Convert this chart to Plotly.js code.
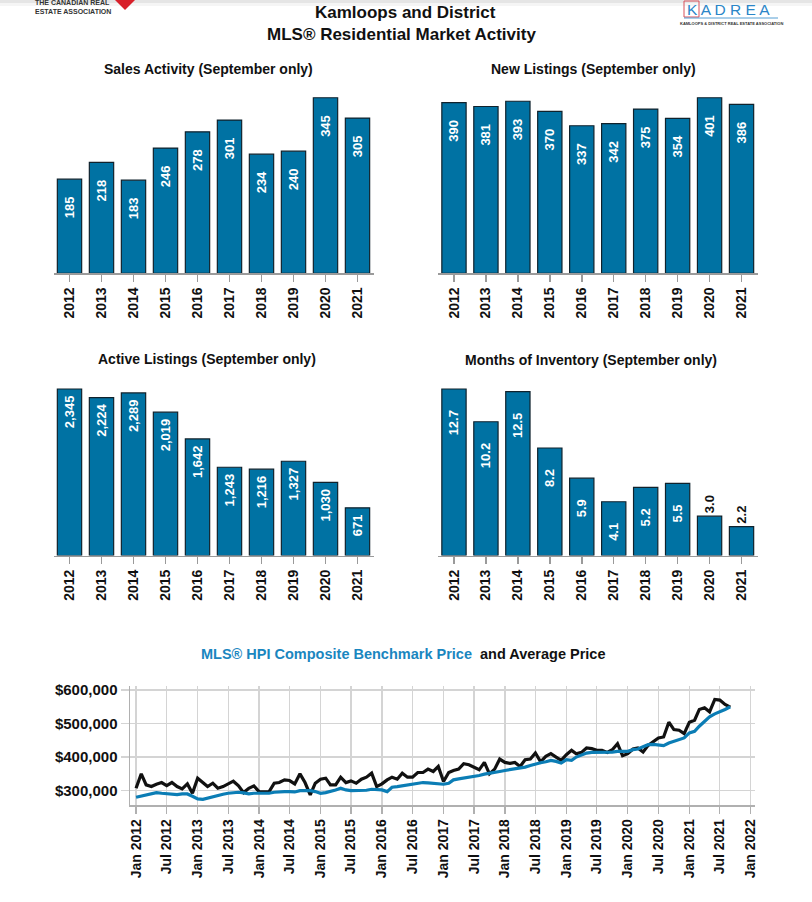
<!DOCTYPE html>
<html>
<head>
<meta charset="utf-8">
<script src="https://cdn.plot.ly/plotly-3.0.1.min.js"></script>
<style>
  html, body { margin: 0; padding: 0; background: #ffffff; }
  #chart { width: 812px; height: 902px; }
</style>
</head>
<body>
<div id="chart"></div>
<script>
// ---------------- DATA ----------------
const years = ['2012', '2013', '2014', '2015', '2016', '2017', '2018', '2019', '2020', '2021'];
const salesActivity = [185, 218, 183, 246, 278, 301, 234, 240, 345, 305];
const newListings = [390, 381, 393, 370, 337, 342, 375, 354, 401, 386];
const activeListings = [2345, 2224, 2289, 2019, 1642, 1243, 1216, 1327, 1030, 671];
const monthsOfInventory = [12.7, 10.2, 12.5, 8.2, 5.9, 4.1, 5.2, 5.5, 3.0, 2.2];

// Monthly series, Jan 2012 .. Sep 2021 (values in thousands of dollars)
const firstMonth = { year: 2012, month: 1 };
const hpiBenchmarkK = [
  280, 283, 287, 290, 294, 292, 290, 289, 288, 290, 290, 283,
  275, 274, 278, 282, 286, 289, 292, 294, 295, 293, 290, 292,
  292, 291, 292, 295, 297, 297, 297, 296, 300, 301, 300, 297,
  292, 294, 297, 302, 307, 302, 300, 300, 302, 301, 304, 303,
  302, 297, 310, 312, 314, 316, 319, 321, 324, 323, 322, 321,
  319, 322, 332, 335, 337, 339, 342, 345, 349, 351, 354, 357,
  360, 362, 365, 367, 370, 375, 380, 383, 386, 390, 387, 382,
  392, 390, 400, 407, 412, 414, 414, 414, 414, 415, 417, 416,
  417, 422, 424, 431, 437, 438, 437, 434, 442, 447, 450, 457,
  472, 477, 492, 507, 520, 529, 535, 542, 550
];
const averagePriceK = [
  307, 350, 317, 312, 319, 324, 315, 324, 312, 305, 320, 292,
  337, 324, 312, 322, 307, 312, 319, 328, 314, 294, 307, 314,
  297, 296, 296, 322, 324, 332, 330, 320, 350, 324, 287, 322,
  334, 337, 317, 317, 340, 324, 329, 322, 334, 340, 352, 312,
  320, 332, 340, 334, 352, 340, 340, 354, 354, 364, 357, 372,
  327, 354, 360, 364, 380, 377, 370, 362, 384, 350, 364, 394,
  384, 381, 384, 372, 392, 394, 412, 386, 402, 410, 400, 390,
  407, 420, 410, 414, 427, 425, 420, 420, 414, 422, 440, 404,
  410, 424, 427, 415, 435, 445, 457, 460, 504, 482, 480, 470,
  504, 510, 542, 547, 535, 572, 570, 557, 549
];

// ---------------- HELPERS ----------------
const W = 812, H = 902;
const px = v => v / W;          // pixel x -> paper
const py = v => 1 - v / H;      // pixel y -> paper
const FONT = 'Liberation Sans, Arial, Helvetica, sans-serif';
const BAR_COLOR = '#0072a3';
const BLUE = '#0b7db5';

const monthDates = hpiBenchmarkK.map((_, i) => {
  const m = firstMonth.month - 1 + i;
  const y = firstMonth.year + Math.floor(m / 12);
  const mm = (m % 12) + 1;
  return y + '-' + (mm < 10 ? '0' + mm : mm) + '-01';
});

function barTrace(values, xa, ya, fmt, pad) {
  const maxV = Math.max(...values);
  const positions = values.map(v => (v / maxV < 0.25 ? 'outside' : 'inside'));
  return {
    type: 'bar',
    x: years,
    y: values,
    xaxis: xa,
    yaxis: ya,
    marker: { color: BAR_COLOR, line: { color: '#10222c', width: 1.2 } },
    texttemplate: '%{y' + fmt + '}' + pad,
    textposition: positions,
    insidetextanchor: 'end',
    textangle: -90,
    insidetextfont: { family: FONT, size: 13, color: '#ffffff', weight: 'bold' },
    outsidetextfont: { family: FONT, size: 13, color: '#111111', weight: 'bold' },
    constraintext: 'none',
    cliponaxis: false,
    hoverinfo: 'skip',
    showlegend: false
  };
}

const PAD4 = '\u00a0\u00a0\u00a0\u00a0';
const PAD5 = '\u00a0\u00a0\u00a0\u00a0\u00a0';
const PAD1 = '\u00a0';

const traces = [
  barTrace(salesActivity, 'x', 'y', '', PAD4),
  barTrace(newListings, 'x2', 'y2', '', PAD4),
  barTrace(activeListings, 'x3', 'y3', ':,', PAD1),
  barTrace(monthsOfInventory, 'x4', 'y4', ':.1f', PAD5),
  {
    type: 'scatter', mode: 'lines',
    x: monthDates, y: averagePriceK.map(v => v * 1000),
    xaxis: 'x5', yaxis: 'y5',
    line: { color: '#111111', width: 3.2 },
    hoverinfo: 'skip', showlegend: false
  },
  {
    type: 'scatter', mode: 'lines',
    x: monthDates, y: hpiBenchmarkK.map(v => v * 1000),
    xaxis: 'x5', yaxis: 'y5',
    line: { color: BLUE, width: 3.2 },
    hoverinfo: 'skip', showlegend: false
  }
];

const catX = (domL, domR, anchor) => ({
  domain: [px(domL), px(domR)],
  anchor: anchor,
  type: 'category',
  range: [-0.5, 9.5],
  showgrid: false,
  zeroline: false,
  showline: true,
  linecolor: '#9a9a9a',
  linewidth: 1.5,
  ticks: 'outside',
  ticklen: 7,
  tickwidth: 1.5,
  tickcolor: '#9a9a9a',
  tickangle: -90,
  tickfont: { family: FONT, size: 14, color: '#111111', weight: 'bold' },
  fixedrange: true
});
const hiddenY = (top, bottom, anchor, maxV, factor) => ({
  domain: [py(bottom), py(top)],
  anchor: anchor,
  range: [0, maxV * factor],
  visible: false,
  fixedrange: true
});

const titleFont = { family: FONT, size: 14, color: '#111111', weight: 'bold' };
const ann = (text, x, y, extra) => Object.assign({
  text: text, xref: 'paper', yref: 'paper', x: px(x), y: py(y),
  xanchor: 'center', yanchor: 'middle', showarrow: false, font: titleFont
}, extra || {});

const layout = {
  width: W, height: H,
  margin: { l: 0, r: 0, t: 0, b: 0 },
  paper_bgcolor: '#ffffff',
  plot_bgcolor: 'rgba(0,0,0,0)',
  bargap: 0.24,
  font: { family: FONT },
  xaxis: catX(53.5, 373.5, 'y'),
  yaxis: hiddenY(90, 273.3, 'x', Math.max(...salesActivity), 1.044),
  xaxis2: catX(438, 757.5, 'y2'),
  yaxis2: hiddenY(90, 273.3, 'x2', Math.max(...newListings), 1.044),
  xaxis3: catX(53.5, 373.5, 'y3'),
  yaxis3: hiddenY(372, 555.5, 'x3', Math.max(...activeListings), 1.102),
  xaxis4: catX(438, 757.5, 'y4'),
  yaxis4: hiddenY(372, 555.5, 'x4', Math.max(...monthsOfInventory), 1.102),
  xaxis5: {
    domain: [px(130), px(755)],
    anchor: 'y5',
    type: 'date',
    range: ['2011-11-26', '2022-01-26'],
    tick0: '2012-01-01',
    dtick: 'M6',
    tickformat: '%b %Y',
    tickangle: -90,
    tickfont: { family: FONT, size: 14, color: '#111111', weight: 'bold' },
    showgrid: true,
    gridcolor: '#d4d4d4',
    gridwidth: 1.2,
    zeroline: false,
    showline: true,
    linecolor: '#b0b0b0',
    linewidth: 1.5,
    ticks: 'outside',
    ticklen: 7,
    tickcolor: '#b0b0b0',
    tickwidth: 1.2,
    fixedrange: true
  },
  yaxis5: {
    domain: [py(805), py(686)],
    anchor: 'x5',
    range: [257000, 612000],
    tick0: 0,
    dtick: 100000,
    tickformat: '$,.0f',
    tickfont: { family: FONT, size: 15, color: '#111111', weight: 'bold' },
    showgrid: true,
    gridcolor: '#d4d4d4',
    gridwidth: 1.2,
    zeroline: false,
    showline: true,
    linecolor: '#b0b0b0',
    linewidth: 1.5,
    ticks: 'outside',
    ticklen: 8,
    tickcolor: '#d4d4d4',
    tickwidth: 1.2,
    fixedrange: true
  },
  annotations: [
    ann('Kamloops and District', 405, 12, { font: { family: FONT, size: 17, color: '#111111', weight: 'bold' } }),
    ann('MLS® Residential Market Activity', 401, 34, { font: { family: FONT, size: 17, color: '#111111', weight: 'bold' } }),
    ann('Sales Activity (September only)', 208, 69),
    ann('New Listings (September only)', 593, 69),
    ann('Active Listings (September only)', 207, 359),
    ann('Months of Inventory (September only)', 591, 360),
    ann('<span style="color:#1a86bf">MLS® HPI Composite Benchmark Price</span>  and Average Price', 403, 654,
      { font: { family: FONT, size: 14.5, color: '#111111', weight: 'bold' } }),
    // logos
    ann('THE CANADIAN REAL<br>ESTATE ASSOCIATION', 33, 7, {
      xanchor: 'left', align: 'left',
      font: { family: FONT, size: 7, color: '#333333', weight: 'bold' }
    }),
    ann('K A D R E A', 686, 0, {
      xanchor: 'left', yanchor: 'top', borderpad: 0,
      font: { family: FONT, size: 15.5, color: '#2a86c8' }
    }),
    ann('KAMLOOPS & DISTRICT REAL ESTATE ASSOCIATION', 731, 20.5, {
      yanchor: 'top', borderpad: 0,
      font: { family: FONT, size: 4, color: '#333333', weight: 'bold' }
    })
  ],
  shapes: [
    // top page shadow
    { type: 'rect', xref: 'paper', yref: 'paper', x0: 0, x1: 1, y0: py(3), y1: 1,
      fillcolor: 'rgba(0,0,0,0.10)', line: { width: 0 }, layer: 'below' },
    { type: 'rect', xref: 'paper', yref: 'paper', x0: 0, x1: 1, y0: py(6), y1: py(3),
      fillcolor: 'rgba(0,0,0,0.04)', line: { width: 0 }, layer: 'below' },
    // CREA red mark
    { type: 'path', xref: 'paper', yref: 'paper',
      path: 'M ' + px(115) + ',' + py(0) + ' L ' + px(135) + ',' + py(0) + ' L ' + px(125) + ',' + py(10) + ' Z',
      fillcolor: '#d8202a', line: { width: 0 } },
    // KADREA red box around K
    { type: 'rect', xref: 'paper', yref: 'paper',
      x0: px(684), x1: px(699), y0: py(17), y1: py(1),
      line: { color: '#d8505a', width: 1 }, fillcolor: 'rgba(0,0,0,0)' },
    { type: 'line', xref: 'paper', yref: 'paper',
      x0: px(684), x1: px(778), y0: py(18), y1: py(18),
      line: { color: '#2a86c8', width: 0.8 } }
  ]
};

Plotly.newPlot('chart', traces, layout, { displayModeBar: false, staticPlot: true });
</script>
</body>
</html>
